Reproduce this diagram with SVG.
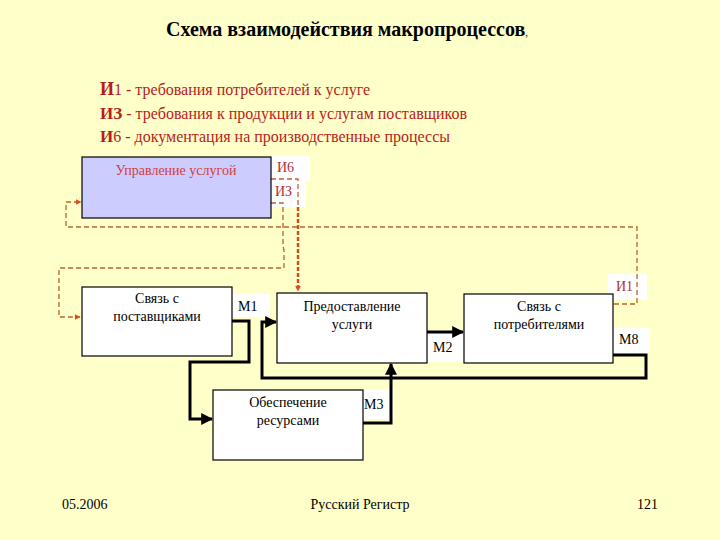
<svg xmlns="http://www.w3.org/2000/svg" width="720" height="540" viewBox="0 0 720 540">
<defs>
<marker id="ab" viewBox="0 0 10 10" refX="9" refY="5" markerWidth="4" markerHeight="4" orient="auto" markerUnits="strokeWidth"><path d="M0,0 L10,5 L0,10 z" fill="#000"/></marker>
<marker id="ar" viewBox="0 0 10 10" refX="9" refY="5" markerWidth="6" markerHeight="6" orient="auto" markerUnits="userSpaceOnUse"><path d="M0,0 L10,5 L0,10 z" fill="#e04a1c"/></marker>
</defs>
<rect width="720" height="540" fill="#ffffca"/>

<text x="166" y="36" font-family="Times New Roman" font-size="20" font-weight="bold">Схема взаимодействия  макропроцессов<tspan font-size="11" font-weight="normal">,</tspan></text>

<g id="legend" fill="#b81c1c">
<text x="100" y="95" font-family="Times New Roman" font-size="16"><tspan font-weight="bold" font-size="18">И</tspan>1 - требования потребителей к услуге</text>
<text x="100" y="119" font-family="Times New Roman" font-size="16"><tspan font-weight="bold" font-size="17">ИЗ</tspan> - требования к продукции и услугам поставщиков</text>
<text x="100" y="142" font-family="Times New Roman" font-size="16"><tspan font-weight="bold" font-size="17">И</tspan>6 - документация на производственные процессы</text>
</g>

<g id="labels-bg" fill="#fff">
<rect x="272" y="156" width="38" height="25"/>
<rect x="272" y="181" width="34" height="26"/>
<rect x="232" y="294" width="38" height="23"/>
<rect x="428" y="334" width="36" height="28"/>
<rect x="613" y="328" width="37" height="25"/>
<rect x="608" y="274" width="39" height="26"/>
<rect x="363" y="389" width="31" height="30"/>
</g>

<g id="connectors" fill="none">
<g stroke="#b8642e" stroke-width="1.3" stroke-dasharray="5,3">
<path d="M271,179 H298 V207"/>
<path d="M271,203 H283 V246 L284,250 V268 H59 V317 H80" marker-end="url(#ar)"/>
<path d="M614,304 H637 V227 H66 V202 H81" marker-end="url(#ar)"/>
</g>
<path d="M298,207 V291" stroke="#d05020" stroke-width="2.5" stroke-dasharray="4,2" marker-end="url(#ar)"/>
<g stroke="#000" stroke-width="3">
<path d="M232,321 H249 V362 H190 V419 H212" marker-end="url(#ab)"/>
<path d="M613,355 H646 V378 H262 V322 H276" marker-end="url(#ab)"/>
<path d="M427,332 H463" marker-end="url(#ab)"/>
<path d="M363,423 H391 V364" marker-end="url(#ab)"/>
</g>
</g>

<g id="upravlenie">
<rect x="82" y="157" width="189" height="61" fill="#ccccff" stroke="#000" stroke-width="1.2"/>
<text x="176" y="175" font-family="Times New Roman" font-size="14" text-anchor="middle" fill="#d04040">Управление услугой</text>
</g>

<g id="postavshiki">
<rect x="82" y="287" width="150" height="69" fill="#fff" stroke="#000" stroke-width="1.2"/>
<text x="157" y="303" font-family="Times New Roman" font-size="14" text-anchor="middle">Связь с</text>
<text x="157" y="321" font-family="Times New Roman" font-size="14" text-anchor="middle">поставщиками</text>
</g>

<g id="predostavlenie">
<rect x="277" y="293" width="150" height="70" fill="#fff" stroke="#000" stroke-width="1.2"/>
<text x="352" y="311" font-family="Times New Roman" font-size="14" text-anchor="middle">Предоставление</text>
<text x="352" y="329" font-family="Times New Roman" font-size="14" text-anchor="middle">услуги</text>
</g>

<g id="potrebiteli">
<rect x="464" y="294" width="149" height="69" fill="#fff" stroke="#000" stroke-width="1.2"/>
<text x="539" y="311" font-family="Times New Roman" font-size="14" text-anchor="middle">Связь с</text>
<text x="539" y="329" font-family="Times New Roman" font-size="14" text-anchor="middle">потребителями</text>
</g>

<g id="obespechenie">
<rect x="213" y="390" width="150" height="70" fill="#fff" stroke="#000" stroke-width="1.2"/>
<text x="288" y="407" font-family="Times New Roman" font-size="14" text-anchor="middle">Обеспечение</text>
<text x="288" y="425" font-family="Times New Roman" font-size="14" text-anchor="middle">ресурсами</text>
</g>

<g id="conn-labels">
<text x="277" y="172" font-family="Times New Roman" font-size="14" fill="#b0303a">И6</text>
<text x="275" y="196" font-family="Times New Roman" font-size="14" fill="#b0303a">ИЗ</text>
<text x="616" y="291" font-family="Times New Roman" font-size="14" fill="#b0303a">И1</text>
<text x="238" y="311" font-family="Times New Roman" font-size="14">М1</text>
<text x="433" y="352" font-family="Times New Roman" font-size="14">М2</text>
<text x="619" y="344" font-family="Times New Roman" font-size="14">М8</text>
<text x="364" y="409" font-family="Times New Roman" font-size="14">М3</text>
</g>

<g id="footer">
<text x="62" y="509" font-family="Times New Roman" font-size="14">05.2006</text>
<text x="360" y="509" font-family="Times New Roman" font-size="14" text-anchor="middle">Русский Регистр</text>
<text x="658" y="509" font-family="Times New Roman" font-size="14" text-anchor="end">121</text>
</g>
</svg>
